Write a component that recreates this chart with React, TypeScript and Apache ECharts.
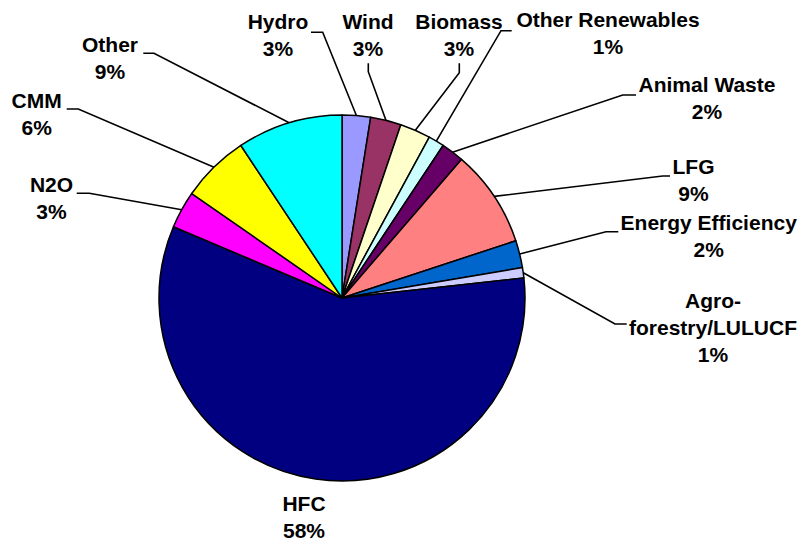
import React, { useEffect, useRef } from "react";
import * as echarts from "echarts";

const categories = [
  "Hydro",
  "Wind",
  "Biomass",
  "Other Renewables",
  "Animal Waste",
  "LFG",
  "Energy Efficiency",
  "Agro-forestry/LULUCF",
  "HFC",
  "N2O",
  "CMM",
  "Other",
];
const values = [2.5, 2.7, 2.7, 1.4, 2.0, 8.6, 2.4, 0.9, 58.0, 3.3, 6.0, 9.3];
const colors = [
  "#9999FF",
  "#993366",
  "#FFFFCC",
  "#CCFFFF",
  "#660066",
  "#FF8080",
  "#0066CC",
  "#CCCCFF",
  "#000080",
  "#FF00FF",
  "#FFFF00",
  "#00FFFF",
];

// label placement: [centerX, middleY, elbowX, elbowY, endX, endY] (no line for HFC)
const labelPlacement: Record<string, number[]> = {
  Hydro: [278, 35, 322.7, 32.3, 311, 32.3],
  Wind: [368, 35, 368.3, 71.7, 368.3, 63.3],
  Biomass: [459, 35, 459.3, 72.7, 459.3, 63.3],
  "Other Renewables": [608, 33.3, 501, 30.7, 511.7, 30.7],
  "Animal Waste": [707, 97.5, 622.7, 95, 636, 95],
  LFG: [693.5, 180, 662.7, 176, 670, 176],
  "Energy Efficiency": [708.7, 236, 606, 231.7, 618.3, 231.7],
  "Agro-forestry/LULUCF": [713, 327, 615, 324, 626.7, 324],
  HFC: [304, 517],
  N2O: [51.5, 198.3, 89.3, 193.3, 76.7, 193.3],
  CMM: [36.7, 113.7, 78.3, 109, 66.7, 109],
  Other: [110, 58.3, 154, 53.3, 143.3, 53.3],
};

const CX = 342;
const CY = 298;
const R = 183;

export default function App() {
  const ref = useRef<HTMLDivElement>(null);
  useEffect(() => {
    if (!ref.current) return;
    const chart = echarts.init(ref.current, undefined, { renderer: "svg" });
    const total = values.reduce((a, b) => a + b, 0);
    const data = categories.map((name, i) => ({
      name,
      value: values[i],
      itemStyle: { color: colors[i] },
      labelLine: { show: name !== "HFC" },
    }));
    chart.setOption({
      animation: false,
      backgroundColor: "#ffffff",
      series: [
        {
          type: "pie",
          center: [CX, CY],
          radius: R,
          startAngle: 90,
          clockwise: true,
          minAngle: 0,
          avoidLabelOverlap: false,
          data,
          itemStyle: { borderColor: "#000000", borderWidth: 1.5 },
          label: {
            show: true,
            position: "outside",
            color: "#000000",
            fontFamily: "'Liberation Sans', Arial, sans-serif",
            fontWeight: "bold",
            fontSize: 21,
            lineHeight: 27,
            align: "center",
            formatter: (p: any) => {
              const pct = Math.round((p.value / total) * 100);
              const nm = p.name === "Agro-forestry/LULUCF" ? "Agro-\nforestry/LULUCF" : p.name;
              return `${nm}\n${pct}%`;
            },
          },
          labelLine: {
            show: true,
            length: 10,
            length2: 10,
            lineStyle: { color: "#000000", width: 1.6 },
          },
          emphasis: { disabled: true },
          labelLayout: (params: any) => {
            const name = categories[params.dataIndex];
            const pl = labelPlacement[name];
            const res: any = {
              x: pl[0],
              y: pl[1],
              align: "center",
              verticalAlign: "middle",
              hideOverlap: false,
            };
            if (pl.length > 2) {
              let start = params.labelLinePoints && params.labelLinePoints[0];
              if (!start) {
                let acc = 0;
                for (let i = 0; i < params.dataIndex; i++) acc += values[i];
                const mid = ((acc + values[params.dataIndex] / 2) / total) * Math.PI * 2;
                start = [CX + R * Math.sin(mid), CY - R * Math.cos(mid)];
              }
              res.labelLinePoints = [start, [pl[2], pl[3]], [pl[4], pl[5]]];
            }
            return res;
          },
        },
      ],
    });
    return () => chart.dispose();
  }, []);
  return (
    <div
      ref={ref}
      style={{ position: "fixed", left: 0, top: 0, width: 804, height: 544, background: "#fff" }}
    />
  );
}
